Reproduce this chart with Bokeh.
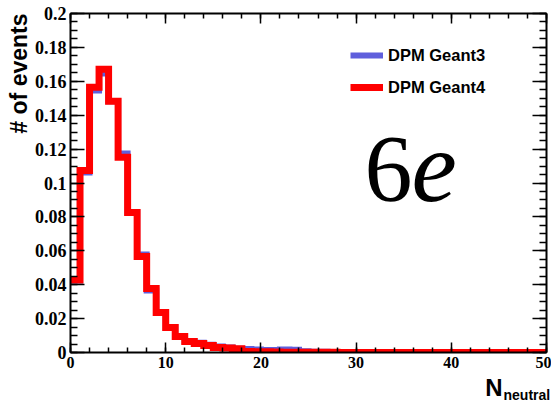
from math import pi
from bokeh.plotting import figure
from bokeh.models import (LinearAxis, FixedTicker, Range1d, Label, Legend, LegendItem, Title,
                          CustomLabelingPolicy)
from bokeh.embed import file_html
from bokeh.resources import INLINE

# ---------------- data ----------------
bin_edges = list(range(0, 51))  # N_neutral bins of width 1, 0..50

geant3 = [0.0425, 0.1062, 0.1546, 0.1646, 0.1482, 0.1174, 0.0826, 0.0578, 0.0366, 0.0236,
          0.0147, 0.0094, 0.0068, 0.0058, 0.0045, 0.0035, 0.0030, 0.0022, 0.0020, 0.0018,
          0.0015, 0.0015, 0.0018, 0.0016, 0.0008, 0.0005, 0.0004, 0.0003, 0.0003, 0.0002,
          0.0002, 0.0002, 0.0001, 0.0001, 0.0001, 0.0001, 0.0001, 0.0001, 0.0, 0.0,
          0.0, 0.0, 0.0, 0.0, 0.0, 0.0, 0.0, 0.0, 0.0, 0.0]

geant4 = [0.0428, 0.1074, 0.1565, 0.1671, 0.1482, 0.1152, 0.0826, 0.0566, 0.0378, 0.0236,
          0.0147, 0.0094, 0.0065, 0.0053, 0.0042, 0.0030, 0.0027, 0.0022, 0.0006, 0.0005,
          0.0004, 0.0003, 0.0002, 0.0002, 0.0001, 0.0001, 0.0001, 0.0001, 0.0, 0.0,
          0.0, 0.0, 0.0, 0.0, 0.0, 0.0, 0.0, 0.0, 0.0, 0.0,
          0.0, 0.0, 0.0, 0.0, 0.0, 0.0, 0.0, 0.0, 0.0, 0.0]

series_names = ["DPM Geant3", "DPM Geant4"]

x_ticks = [0, 10, 20, 30, 40, 50]
x_tick_labels = ["0", "10", "20", "30", "40", "50"]
x_minor = [0, 2, 4, 6, 8, 10, 12, 14, 16, 18, 20, 22, 24, 26, 28, 30, 32, 34, 36, 38,
           40, 42, 44, 46, 48, 50]
y_ticks = [0, 0.02, 0.04, 0.06, 0.08, 0.1, 0.12, 0.14, 0.16, 0.18, 0.2]
y_tick_labels = ["0", "0.02", "0.04", "0.06", "0.08", "0.1", "0.12", "0.14", "0.16", "0.18", "0.2"]
y_minor = [round(i * 0.005, 4) for i in range(0, 41)]

x_title_main = "N"
x_title_sub = "neutral"
y_title = "# of events"
big_text_1 = "6"
big_text_2 = "e"


def step_coords(edges, vals):
    xs, ys = [], []
    for i, v in enumerate(vals):
        xs += [edges[i], edges[i + 1]]
        ys += [v, v]
    return xs, ys


# ---------------- figure ----------------
p = figure(width=551, height=404, output_backend="svg", toolbar_location=None,
           x_range=Range1d(0, 50), y_range=Range1d(0, 0.2),
           x_axis_location=None, y_axis_location=None,
           min_border_left=70, min_border_right=5, min_border_top=13, min_border_bottom=52)
p.frame_width = 476
p.frame_height = 339
p.xgrid.visible = False
p.ygrid.visible = False
p.outline_line_color = None
p.background_fill_color = "white"

BLUE = "#5f5fdc"
RED = "#ff0000"

x3, y3 = step_coords(bin_edges, geant3)
x4, y4 = step_coords(bin_edges, geant4)
r3 = p.line(x3, y3, line_color=BLUE, line_width=6, line_join="miter")
r4 = p.line(x4, y4, line_color=RED, line_width=7, line_join="miter")

# labeling policy that shows no labels (for the mirrored top/right axes)
no_labels = CustomLabelingPolicy(code="""
try { return new indices.constructor(indices.size) } catch (e) { return indices }
""")


# ---------------- axes ----------------
def style_axis(ax, ticks, minor, labels, major_in, minor_in, show_labels, font_size):
    ax.ticker = FixedTicker(ticks=ticks, minor_ticks=minor)
    ax.major_tick_in = major_in
    ax.major_tick_out = 0
    ax.minor_tick_in = minor_in
    ax.minor_tick_out = 0
    ax.axis_line_width = 2
    ax.axis_line_color = "black"
    ax.major_tick_line_width = 1.5
    ax.minor_tick_line_width = 1.5
    ax.major_tick_line_color = "black"
    ax.minor_tick_line_color = "black"
    if show_labels:
        ax.major_label_overrides = {t: l for t, l in zip(ticks, labels)}
        ax.major_label_text_font = "Liberation Serif"
        ax.major_label_text_font_style = "bold"
        ax.major_label_text_font_size = font_size
        ax.major_label_text_color = "black"
        ax.major_label_standoff = 4
    else:
        ax.major_label_policy = no_labels
        ax.major_label_text_font_size = "0px"
        ax.major_label_standoff = 0


xb = LinearAxis()
style_axis(xb, x_ticks, x_minor, x_tick_labels, 10, 5, True, "16px")
p.add_layout(xb, "below")
xt = LinearAxis()
style_axis(xt, x_ticks, x_minor, x_tick_labels, 10, 5, False, "0px")
p.add_layout(xt, "above")
yl = LinearAxis()
style_axis(yl, y_ticks, y_minor, y_tick_labels, 14, 7, True, "18px")
p.add_layout(yl, "left")
yr = LinearAxis()
style_axis(yr, y_ticks, y_minor, y_tick_labels, 14, 7, False, "0px")
p.add_layout(yr, "right")

# ---------------- titles ----------------
p.add_layout(Title(text=y_title, align="right", offset=0, standoff=0,
                   text_font="Liberation Sans", text_font_style="bold",
                   text_font_size="23px", text_color="black"), "left")

p.add_layout(Label(x=432, y=10, x_units="screen", y_units="screen", text=x_title_main,
                   text_align="right", text_baseline="alphabetic",
                   text_font="Liberation Sans", text_font_style="bold",
                   text_font_size="24px", text_color="black"), "below")
p.add_layout(Label(x=433, y=19, x_units="screen", y_units="screen", text=x_title_sub,
                   text_align="left", text_baseline="alphabetic",
                   text_font="Liberation Sans", text_font_style="bold",
                   text_font_size="14px", text_color="black"), "below")

# big "6e"
p.add_layout(Label(x=294, y=183, x_units="screen", y_units="screen", text=big_text_1,
                   text_align="left", text_baseline="alphabetic",
                   text_font="Liberation Serif", text_font_size="96px", text_color="black"))
p.add_layout(Label(x=341, y=185, x_units="screen", y_units="screen", text=big_text_2,
                   text_align="left", text_baseline="alphabetic",
                   text_font="Liberation Serif", text_font_style="italic",
                   text_font_size="102px", text_color="black"))

# ---------------- legend ----------------
legend = Legend(items=[LegendItem(label=series_names[0], renderers=[r3]),
                       LegendItem(label=series_names[1], renderers=[r4])],
                location=(280, 255), margin=0, padding=0, spacing=12,
                glyph_width=33, glyph_height=20, label_height=20, label_standoff=5,
                border_line_color=None, background_fill_alpha=0,
                label_text_font="Liberation Sans", label_text_font_style="bold",
                label_text_font_size="16.5px", label_text_color="black")
p.add_layout(legend)

open("out.html", "w").write(file_html(p, INLINE))
